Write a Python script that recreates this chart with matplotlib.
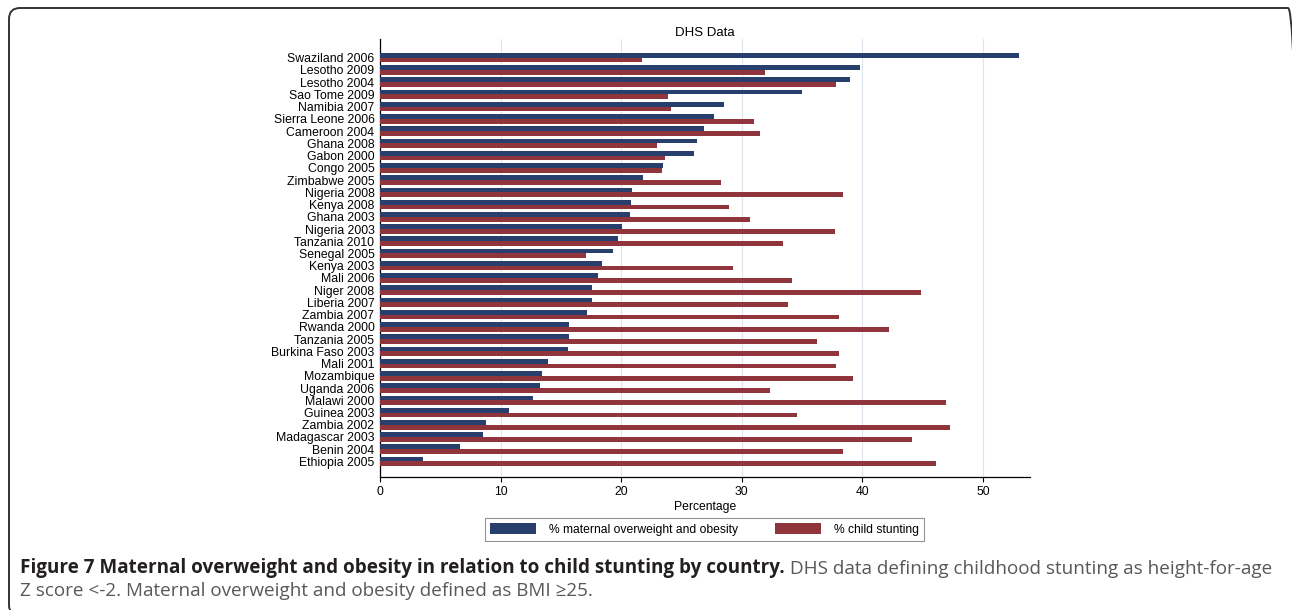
import numpy as np
import matplotlib
matplotlib.use("Agg")
import matplotlib.pyplot as plt
from matplotlib.patches import FancyBboxPatch
from matplotlib.transforms import IdentityTransform

plt.rcParams['font.family'] = ['Liberation Sans', 'DejaVu Sans']

countries = [
    "Swaziland 2006", "Lesotho 2009", "Lesotho 2004", "Sao Tome 2009", "Namibia 2007",
    "Sierra Leone 2006", "Cameroon 2004", "Ghana 2008", "Gabon 2000", "Congo 2005",
    "Zimbabwe 2005", "Nigeria 2008", "Kenya 2008", "Ghana 2003", "Nigeria 2003",
    "Tanzania 2010", "Senegal 2005", "Kenya 2003", "Mali 2006", "Niger 2008",
    "Liberia 2007", "Zambia 2007", "Rwanda 2000", "Tanzania 2005", "Burkina Faso 2003",
    "Mali 2001", "Mozambique", "Uganda 2006", "Malawi 2000", "Guinea 2003",
    "Zambia 2002", "Madagascar 2003", "Benin 2004", "Ethiopia 2005",
]
overweight = [
    53.0, 39.8, 39.0, 35.0, 28.5,
    27.7, 26.9, 26.3, 26.0, 23.5,
    21.8, 20.9, 20.8, 20.7, 20.1,
    19.7, 19.3, 18.4, 18.1, 17.6,
    17.6, 17.2, 15.7, 15.7, 15.6,
    13.9, 13.4, 13.3, 12.7, 10.7,
    8.8, 8.5, 6.6, 3.6,
]
stunting = [
    21.7, 31.9, 37.8, 23.9, 24.1,
    31.0, 31.5, 23.0, 23.6, 23.4,
    28.3, 38.4, 28.9, 30.7, 37.7,
    33.4, 17.1, 29.3, 34.2, 44.9,
    33.8, 38.1, 42.2, 36.2, 38.1,
    37.8, 39.2, 32.3, 46.9, 34.6,
    47.3, 44.1, 38.4, 46.1,
]

series_labels = ["% maternal overweight and obesity", "% child stunting"]
navy = "#283e6d"
maroon = "#90353b"

fig = plt.figure(figsize=(12.92, 6.10), dpi=100)
ax = fig.add_axes([380 / 1292, 1 - 477 / 610, 650 / 1292, 438 / 610])

y = np.arange(len(countries))
h = 0.39
ax.barh(y - h / 2, overweight, height=h, color=navy, label=series_labels[0], zorder=3)
ax.barh(y + h / 2, stunting, height=h, color=maroon, label=series_labels[1], zorder=3)

ax.set_yticks(y)
ax.set_yticklabels(countries, fontsize=8.8)
top = -0.39 - 1.14
ax.set_ylim(top + 35.8, top)
ax.set_xlim(0, 53.9)
ax.set_xticks(range(0, 51, 10))
ax.tick_params(axis='x', length=3.6, width=0.8, labelsize=8.7, pad=3)
ax.tick_params(axis='y', length=0, pad=4)
ax.grid(axis='x', color="#dfe5ee", linewidth=0.8, zorder=0)
for s in ("top", "right"):
    ax.spines[s].set_visible(False)
for s in ("left", "bottom"):
    ax.spines[s].set_linewidth(0.9)
ax.set_xlabel("Percentage", fontsize=8.7, labelpad=2)
ax.set_title("DHS Data", fontsize=9.5, pad=2.5)

leg = fig.legend(loc='upper center', bbox_to_anchor=(704.5 / 1292, 1 - 517.5 / 610),
                 ncol=2, fontsize=8.7, frameon=True, fancybox=False,
                 edgecolor="#777777", handlelength=3.8, handleheight=1.05,
                 handletextpad=1.05, columnspacing=3.1, borderpad=0.45,
                 borderaxespad=0)
leg.get_frame().set_linewidth(0.8)

# rounded panel border in pixels (right and bottom edges fall just outside the image)
fig.patches.append(FancyBboxPatch((9, -6), 1290, 608,
                                  boxstyle="round,pad=0,rounding_size=11",
                                  transform=IdentityTransform(), fill=False,
                                  edgecolor="#333333", linewidth=1.4))

cap_font = ['Open Sans', 'DejaVu Sans']
bold = fig.text(20 / 1292, 1 - 568 / 610,
                "Figure 7 Maternal overweight and obesity in relation to child stunting by country.",
                family=cap_font, fontweight='bold', fontsize=13.6, color="#231f20", va='center')
fig.canvas.draw()
ax.annotate(" DHS data defining childhood stunting as height-for-age",
            xy=(1, 0), xycoords=bold, va='bottom', ha='left',
            family=cap_font, fontsize=13.6, color="#58585a", annotation_clip=False)
fig.text(20 / 1292, 1 - 591 / 610,
         "Z score <-2. Maternal overweight and obesity defined as BMI \u226525.",
         family=cap_font, fontsize=13.6, color="#58585a", va='center')

fig.savefig("out.png", dpi=100)
